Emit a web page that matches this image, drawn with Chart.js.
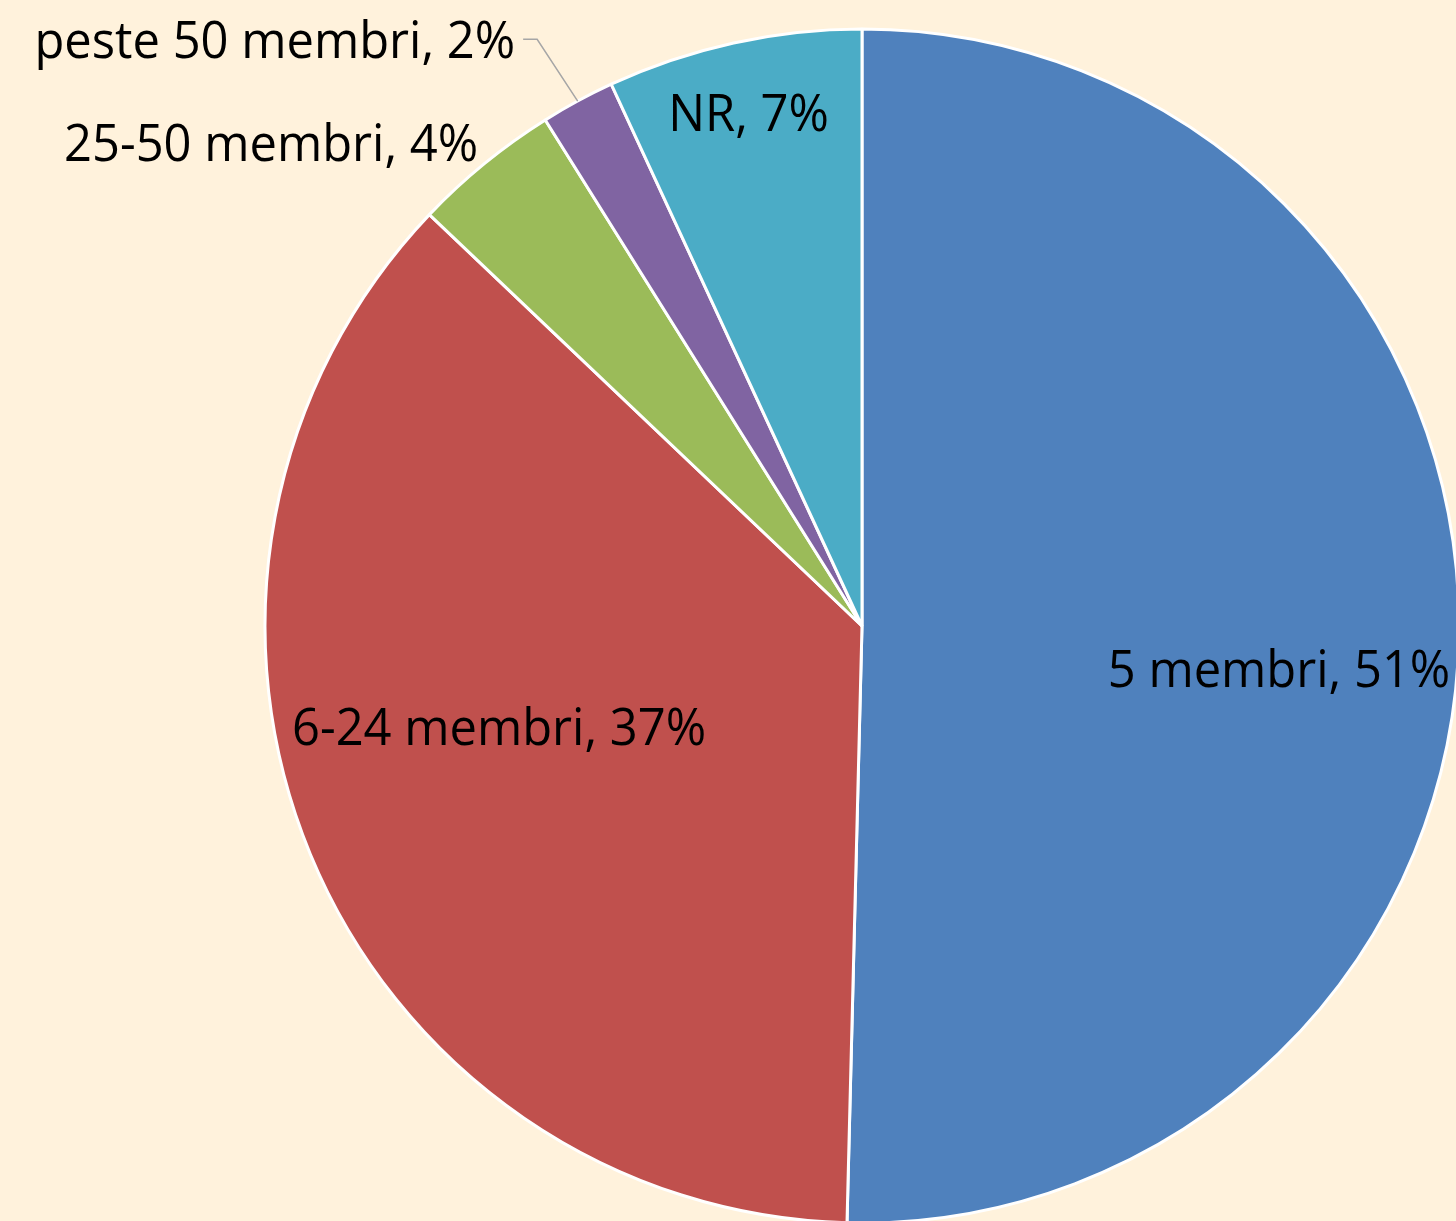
<!DOCTYPE html>
<html>
<head>
<meta charset="utf-8">
<script src="https://cdn.jsdelivr.net/npm/chart.js@4.4.1/dist/chart.umd.min.js"></script>
<style>
  html, body { margin: 0; padding: 0; background: #FFF2DC; overflow: hidden; width: 1456px; height: 1221px; }
  #wrap { position: absolute; left: 0; top: 0; width: 1470px; height: 1240px; }
</style>
</head>
<body>
<div id="wrap"><canvas id="c"></canvas></div>
<script>
// ---- data ----
const categories = ["5 membri", "6-24 membri", "25-50 membri", "peste 50 membri", "NR"];
const shares = [50.4, 36.7, 4.0, 2.0, 6.9];
const shareLabels = ["51%", "37%", "4%", "2%", "7%"];
const sliceColors = ["#4F81BD", "#C0504D", "#9BBB59", "#8064A2", "#4BACC6"];

// label placement relative to pie centre, in units of radius
const labelPlacement = [
  { dx: 0.6985, dy: 0.1022, align: "center" },
  { dx: -0.608, dy: 0.199, align: "center" },
  { dx: -0.643, dy: -0.779, align: "right" },
  { dx: -0.581, dy: -0.951, align: "right", leader: true },
  { dx: -0.190, dy: -0.829, align: "center" }
];

const labelPlugin = {
  id: "sliceLabels",
  afterDatasetsDraw(chart) {
    const ctx = chart.ctx;
    const meta = chart.getDatasetMeta(0);
    ctx.save();
    ctx.font = "52px 'Open Sans'";
    ctx.fillStyle = "#000";
    ctx.textBaseline = "alphabetic";
    const sx = 0.94;
    meta.data.forEach((arc, i) => {
      const p = labelPlacement[i];
      const R = arc.outerRadius;
      const x = arc.x + p.dx * R;
      const y = arc.y + p.dy * R;
      const text = categories[i] + ", " + shareLabels[i];
      ctx.save();
      ctx.translate(x, y);
      ctx.scale(sx, 1);
      ctx.textAlign = p.align;
      ctx.fillText(text, 0, 0);
      ctx.restore();
      if (p.leader) {
        const mid = (arc.startAngle + arc.endAngle) / 2;
        const ex = arc.x + Math.cos(mid) * R;
        const ey = arc.y + Math.sin(mid) * R;
        const lx = x + 8;
        const ly = y - 19;
        ctx.beginPath();
        ctx.strokeStyle = "#A6A6A6";
        ctx.lineWidth = 1.5;
        ctx.moveTo(lx, ly);
        ctx.lineTo(lx + 14, ly);
        ctx.lineTo(ex, ey);
        ctx.stroke();
      }
    });
    ctx.restore();
  }
};

new Chart(document.getElementById("c"), {
  type: "pie",
  data: {
    labels: categories,
    datasets: [{
      data: shares,
      backgroundColor: sliceColors,
      borderColor: "#FFFFFF",
      borderWidth: 3
    }]
  },
  options: {
    responsive: true,
    maintainAspectRatio: false,
    animation: false,
    radius: 597,
    layout: { padding: { left: 265, top: 29, right: 11, bottom: 17 } },
    plugins: { legend: { display: false }, tooltip: { enabled: false } }
  },
  plugins: [labelPlugin]
});
</script>
</body>
</html>
